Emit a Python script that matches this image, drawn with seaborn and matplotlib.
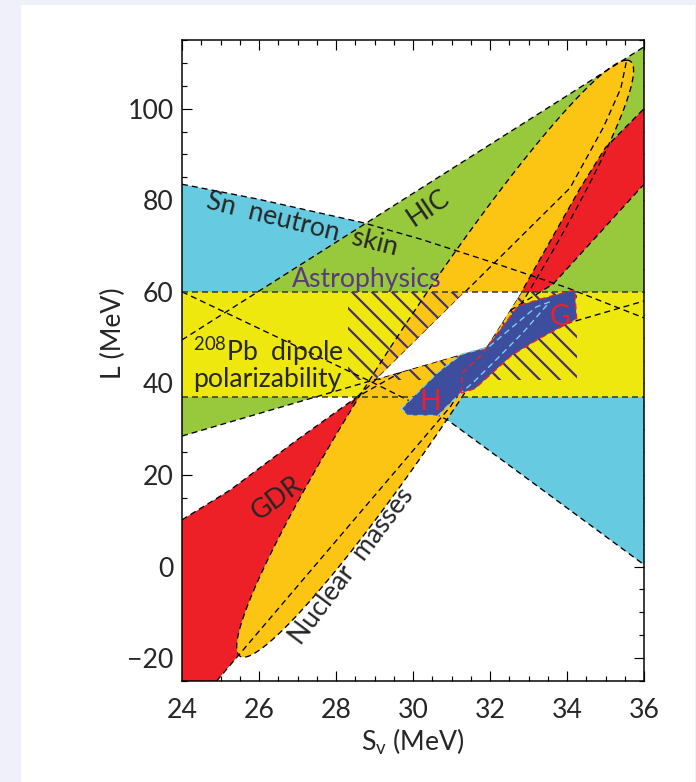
import numpy as np
import pandas as pd
import matplotlib
matplotlib.use("Agg")
import matplotlib.pyplot as plt
import seaborn as sns
from matplotlib.patches import Polygon, Rectangle
from matplotlib.ticker import MultipleLocator

# ---------------- constraint data in the (S_v, L) plane [MeV] ----------------
# Sn neutron skin band
SKIN_UPPER_SV = [24.0, 26.0, 28.7, 30.2, 32.0, 34.0, 36.0]
SKIN_UPPER_L = [83.5, 80.2, 75.1, 71.5, 66.6, 60.9, 54.3]
SKIN_LOWER_SV = [24.0, 27.0, 29.0, 30.9, 33.0, 36.0]
SKIN_LOWER_L = [60.0, 48.0, 40.0, 32.0, 19.0, 0.4]

# heavy-ion collisions wedge
HIC_UPPER_SV = [24.0, 36.0]
HIC_UPPER_L = [49.5, 113.5]
HIC_LOWER_SV = [24.0, 36.0]
HIC_LOWER_L = [28.5, 58.0]

# giant dipole resonance: two crossing boundary curves
GDR_A_SV = [24.0, 25.25, 26.98, 28.54, 32.5, 33.64, 36.0]
GDR_A_L = [10.2, 16.7, 27.6, 37.0, 55.8, 61.7, 83.5]
GDR_B_SV = [24.9, 30.98, 31.91, 32.5, 32.82, 34.34, 35.0, 36.0]
GDR_B_L = [-25.0, 35.0, 47.95, 55.8, 60.0, 82.6, 91.5, 100.0]
GDR_CROSS_A, GDR_CROSS_B = 4, 3

# nuclear masses: ellipse given by its lowest/highest points and half width
NM_TOP = (35.55, 110.6)
NM_BOTTOM = (25.6, -19.8)
NM_HALF_WIDTH = 1.35
NM_INNER_SV = [28.4, 28.54, 29.06, 31.56, 34.08, 34.95, 35.4, 35.55]
NM_INNER_L = [35.5, 37.0, 41.0, 61.7, 82.7, 96.0, 104.5, 110.6]

# 208Pb dipole polarizability band
DIPOLE_L = [37.0, 60.0]

# overlap of experimental constraints
OVERLAP_SV = [29.06, 31.35, 32.82, 31.91]
OVERLAP_L = [41.0, 60.0, 60.0, 47.95]

# astrophysics window
ASTRO_SV = [28.3, 34.25]
ASTRO_L = [40.7, 60.0]

# neutron matter theory (H, G)
H_SV = [29.7, 30.66, 31.27, 31.96, 33.2, 33.55, 32.9, 32.2, 31.6, 31.18, 30.83, 30.66, 29.87]
H_L = [34.5, 42.5, 46.4, 47.9, 56.7, 57.8, 51.5, 45.5, 40.5, 37.4, 34.5, 33.0, 33.0]
G_SV = [31.25, 31.28, 31.75, 32.74, 33.6, 34.2, 34.25, 33.26, 32.56, 31.61]
G_L = [37.9, 42.3, 46.0, 57.0, 59.1, 60.4, 54.1, 49.7, 46.1, 38.85]

XLIM = (24, 36)
YLIM = (-25, 115)

# ---------------- colours ----------------
C_SKIN = "#66cbe0"
C_HIC = "#98c83c"
C_GDR = "#ee2027"
C_NM = "#fdc513"
C_DIPOLE = "#eee80f"
C_THEORY = "#3d4e9f"
C_HATCH = "#47306f"
C_ASTRO_TXT = "#5a3a80"

sns.set_style("ticks")
plt.rcParams["font.family"] = ["Lato", "DejaVu Sans"]
plt.rcParams["mathtext.fontset"] = "custom"
plt.rcParams["mathtext.rm"] = "Lato"
plt.rcParams["hatch.linewidth"] = 1.3
plt.rcParams["lines.scale_dashes"] = False

DPI = 120
FS = 16
fig = plt.figure(figsize=(696 / DPI, 782 / DPI), dpi=DPI, facecolor="#f0f0fb")
fig.patches.append(Rectangle((21 / 696, 0), (695 - 21) / 696, 1 - 5 / 782,
                             transform=fig.transFigure, facecolor="white",
                             edgecolor="none", zorder=-1))
ax = fig.add_axes([182 / 696, 1 - 681 / 782, (644 - 182) / 696, (681 - 40) / 782])
ax.set_zorder(1)
ax.set_facecolor("white")
ax.set_xlim(*XLIM)
ax.set_ylim(*YLIM)

DASH = (0, (3.6, 2.4))


def poly(xs, ys, color, z, **kw):
    p = Polygon(np.column_stack([xs, ys]), closed=True, facecolor=color,
                edgecolor="none", zorder=z, **kw)
    ax.add_patch(p)
    return p


# Sn neutron skin
poly(SKIN_UPPER_SV + SKIN_LOWER_SV[::-1], SKIN_UPPER_L + SKIN_LOWER_L[::-1], C_SKIN, 1.0)
# HIC
poly(HIC_UPPER_SV + HIC_LOWER_SV[::-1], HIC_UPPER_L + HIC_LOWER_L[::-1], C_HIC, 1.1)

# GDR lower-left wedge
ia, ib = GDR_CROSS_A, GDR_CROSS_B
low_x = [GDR_A_SV[0]] + GDR_A_SV[:ia + 1] + GDR_B_SV[:ib][::-1]
low_y = [GDR_B_L[0]] + GDR_A_L[:ia + 1] + GDR_B_L[:ib][::-1]
poly(low_x, low_y, C_GDR, 1.2)

# nuclear masses ellipse
t = np.linspace(0, 2 * np.pi, 400)
c = (np.array(NM_TOP) + np.array(NM_BOTTOM)) / 2
a = np.array(NM_TOP) - c
ell_x = c[0] + a[0] * np.cos(t) + NM_HALF_WIDTH * np.sin(t)
ell_y = c[1] + a[1] * np.cos(t)
poly(ell_x, ell_y, C_NM, 1.3)

# GDR upper-right wedge
up_x = GDR_B_SV[ib:] + [GDR_A_SV[-1]] + GDR_A_SV[ia + 1:-1][::-1]
up_y = GDR_B_L[ib:] + [GDR_A_L[-1]] + GDR_A_L[ia + 1:-1][::-1]
poly(up_x, up_y, C_GDR, 1.4)

# dipole polarizability band
band = Rectangle((XLIM[0], DIPOLE_L[0]), XLIM[1] - XLIM[0], DIPOLE_L[1] - DIPOLE_L[0],
                 facecolor=C_DIPOLE, edgecolor="none", zorder=1.5)
ax.add_patch(band)
ell_in_band = poly(ell_x, ell_y, C_NM, 1.6)
ell_in_band.set_clip_path(band)

# astrophysics hatched window
ax.add_patch(Rectangle((ASTRO_SV[0], ASTRO_L[0]), ASTRO_SV[1] - ASTRO_SV[0],
                       ASTRO_L[1] - ASTRO_L[0], fill=False, hatch="\\\\",
                       edgecolor=C_HATCH, linewidth=0, zorder=1.7))

# dashed boundaries of every constraint
curves = {
    "skin_up": (SKIN_UPPER_SV, SKIN_UPPER_L),
    "skin_lo": (SKIN_LOWER_SV, SKIN_LOWER_L),
    "hic_up": (HIC_UPPER_SV, HIC_UPPER_L),
    "hic_lo": (HIC_LOWER_SV, HIC_LOWER_L),
    "gdr_a": (GDR_A_SV, GDR_A_L),
    "gdr_b": (GDR_B_SV, GDR_B_L),
    "nm_outer": (list(ell_x), list(ell_y)),
    "nm_inner": (NM_INNER_SV, NM_INNER_L),
}
frames = [pd.DataFrame({"sv": xs, "L": ys, "curve": k, "order": range(len(xs))})
          for k, (xs, ys) in curves.items()]
df = pd.concat(frames, ignore_index=True)
n_before = len(ax.lines)
sns.lineplot(data=df, x="sv", y="L", units="curve", estimator=None, sort=False,
             color="black", linewidth=0.8, ax=ax, zorder=2, legend=False)
for ln in ax.lines[n_before:]:
    ln.set_linestyle(DASH)
    ln.set_zorder(2)

# overlap region
poly(OVERLAP_SV, OVERLAP_L, "white", 2.5)

# edges of the dipole band
for lv in DIPOLE_L:
    ax.axhline(lv, color="#333333", linewidth=0.9, linestyle=DASH, zorder=2.6)

# theory regions
poly(H_SV, H_L, C_THEORY, 3.0)
poly(G_SV, G_L, C_THEORY, 3.0)
ax.add_patch(Polygon(np.column_stack([H_SV, H_L]), closed=True, fill=False,
                     edgecolor="#7fd3ec", linewidth=0.8, linestyle=DASH, zorder=3.1))
ax.add_patch(Polygon(np.column_stack([G_SV, G_L]), closed=True, fill=False,
                     edgecolor="#ee2027", linewidth=0.8, linestyle=DASH, zorder=3.1))

# annotations
txt = dict(ha="center", va="center", rotation_mode="anchor", zorder=4, fontsize=FS)
ax.text(27.11, 74.6, "Sn  neutron  skin", rotation=-14, **txt)
ax.text(30.4, 78.3, "HIC", rotation=34, **txt)
ax.text(28.81, 62.7, "Astrophysics", color=C_ASTRO_TXT, **txt)
ax.text(26.46, 14.9, "GDR", rotation=36, **txt)
ax.text(28.41, 0.1, "Nuclear  masses", rotation=53, **txt)
ax.text(24.29, 44.4, "$\\mathregular{^{208}}$Pb  dipole\npolarizability",
        ha="left", va="center", fontsize=FS, linespacing=0.95, zorder=4)
ax.text(30.44, 35.9, "H", color="#ee2027", ha="center", va="center", fontsize=FS + 1,
        zorder=4)
ax.text(33.82, 54.4, "G", color="#ee2027", ha="center", va="center", fontsize=FS + 1,
        zorder=4)

# axes styling
ax.xaxis.set_major_locator(MultipleLocator(2))
ax.xaxis.set_minor_locator(MultipleLocator(0.5))
ax.yaxis.set_major_locator(MultipleLocator(20))
ax.yaxis.set_minor_locator(MultipleLocator(5))
ax.tick_params(which="both", direction="in", top=True, right=True, color="black",
               width=0.7)
ax.tick_params(which="major", length=6, labelsize=FS)
ax.tick_params(which="minor", length=3)
ax.tick_params(axis="x", which="major", pad=10)
ax.tick_params(axis="y", which="major", pad=5)
for sp in ax.spines.values():
    sp.set_linewidth(0.9)
    sp.set_color("black")
    sp.set_zorder(5)
ax.set_xlabel("")
ax.set_ylabel("")
ax.text(0.5, -0.095, "S$\\mathregular{_v}$ (MeV)", transform=ax.transAxes,
        ha="center", va="center", fontsize=FS)
ax.text(-0.149, 0.543, "L (MeV)", transform=ax.transAxes, rotation=90,
        ha="center", va="center", fontsize=FS)

fig.savefig("out.png", dpi=DPI, facecolor=fig.get_facecolor())
